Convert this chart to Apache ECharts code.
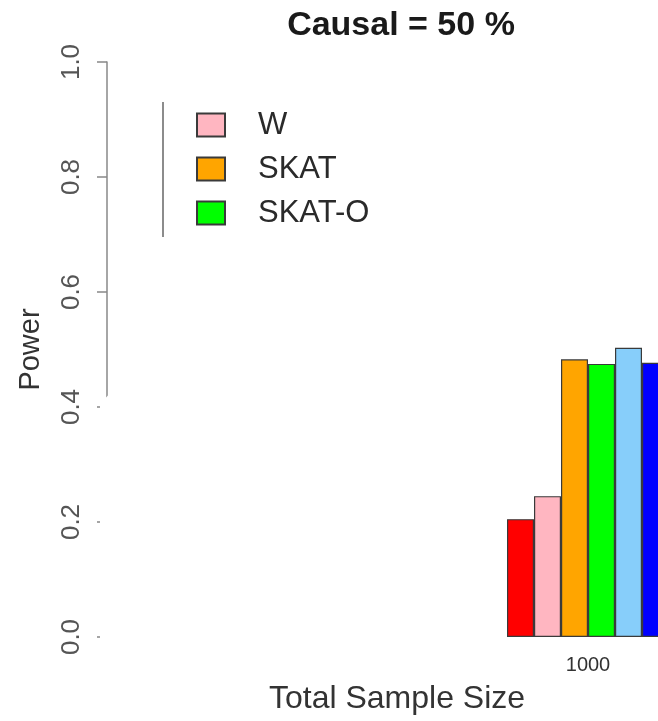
<!DOCTYPE html>
<html>
<head>
<meta charset="utf-8">
<script src="https://cdn.jsdelivr.net/npm/echarts@6/dist/echarts.min.js"></script>
<style>
html,body{margin:0;padding:0;background:#fff;}
#chart{width:658px;height:721px;}
</style>
</head>
<body>
<div id="chart"></div>
<script>
// ---- data ----
var categories = ['1000'];
var seriesNames = ['Series A', 'W', 'SKAT', 'SKAT-O', 'Series E', 'Series F'];
var valuesA = [0.205];
var valuesW = [0.245];
var valuesSKAT = [0.483];
var valuesSKATO = [0.475];
var valuesE = [0.503];
var valuesF = [0.477];
var legendNames = ['W', 'SKAT', 'SKAT-O'];
var titleText = 'Causal = 50 %';
var xName = 'Total Sample Size';
var yName = 'Power';

var colors = ['#FF0000', '#FFB6C1', '#FFA500', '#00FF00', '#87CEFA', '#0000FF'];
var allValues = [valuesA, valuesW, valuesSKAT, valuesSKATO, valuesE, valuesF];

var font = '"Liberation Sans", Arial, Helvetica, sans-serif';
var chart = echarts.init(document.getElementById('chart'), null, {renderer: 'canvas'});

var series = allValues.map(function (vals, i) {
  return {
    name: seriesNames[i],
    type: 'bar',
    data: vals,
    barWidth: 27,
    barGap: '0%',
    clip: false,
    itemStyle: {color: colors[i], borderColor: '#3a3a3a', borderWidth: 1.2},
    emphasis: {disabled: true}
  };
});

chart.setOption({
  animation: false,
  backgroundColor: '#fff',
  grid: {left: 518, top: 62, right: 0, bottom: 84, containLabel: false},
  legend: {
    data: legendNames,
    orient: 'vertical',
    left: 196,
    top: 109,
    padding: 0,
    itemWidth: 28,
    itemHeight: 23,
    itemGap: 12,
    icon: 'rect',
    textStyle: {fontFamily: font, fontSize: 31, color: '#2a2a2a', lineHeight: 32, padding: [0, 0, 0, 28]},
    selectedMode: false
  },
  xAxis: {
    type: 'category',
    data: categories,
    axisLine: {show: false},
    axisTick: {show: false},
    axisLabel: {fontFamily: font, fontSize: 20, color: '#333', margin: 18}
  },
  yAxis: {
    type: 'value',
    min: 0,
    max: 1,
    interval: 0.2,
    position: 'left',
    offset: 411,
    splitLine: {show: false},
    axisLine: {show: true, lineStyle: {color: '#888', width: 1.5}},
    axisTick: {show: true, length: 10, lineStyle: {color: '#888', width: 1.5}},
    axisLabel: {
      rotate: 90,
      margin: 22,
      fontFamily: font,
      fontSize: 26,
      color: '#555',
      formatter: function (v) { return v.toFixed(1); }
    },
    name: yName,
    nameLocation: 'middle',
    nameRotate: 90,
    nameGap: 62,
    nameTextStyle: {fontFamily: font, fontSize: 29, color: '#333'}
  },
  graphic: [
    {
      type: 'polygon',
      z: 100,
      shape: {points: [[113, 390], [100, 404], [100, 650], [480, 650], [480, 390]]},
      style: {fill: '#fff'}
    },
    {
      type: 'line',
      z: 101,
      shape: {x1: 163, y1: 102, x2: 163, y2: 237},
      style: {stroke: '#666', lineWidth: 1.5}
    },
    {
      type: 'text',
      z: 101,
      x: 401,
      y: 26,
      style: {text: titleText, font: 'bold 34px ' + font, fill: '#1a1a1a', textAlign: 'center', textVerticalAlign: 'middle'}
    },
    {
      type: 'text',
      z: 101,
      x: 397,
      y: 699,
      style: {text: xName, font: '32px ' + font, fill: '#333', textAlign: 'center', textVerticalAlign: 'middle'}
    }
  ],
  series: series
});
</script>
</body>
</html>
